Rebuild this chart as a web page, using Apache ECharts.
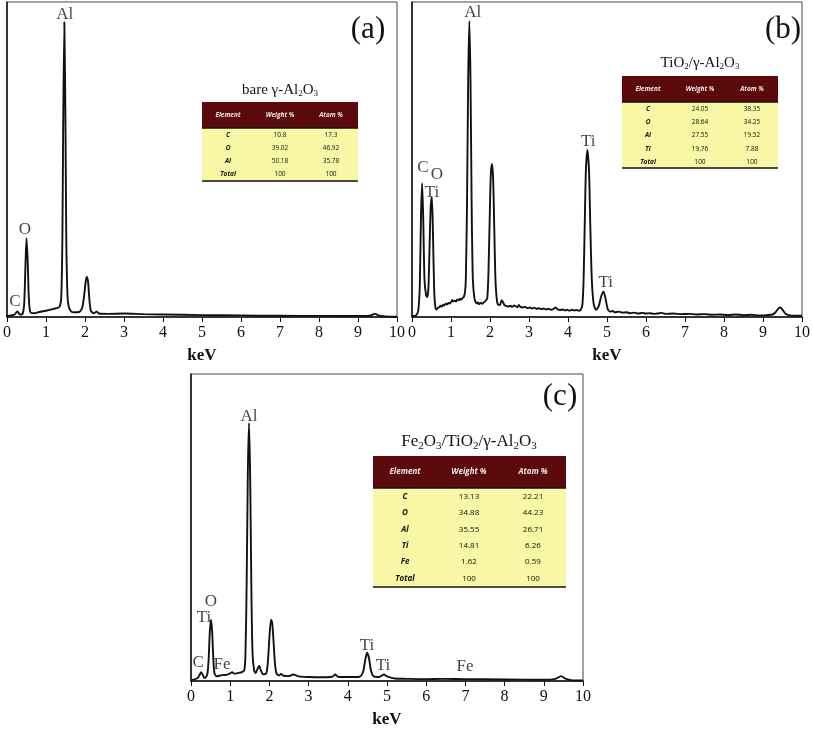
<!DOCTYPE html>
<html><head><meta charset="utf-8">
<script src="https://cdn.jsdelivr.net/npm/echarts@6/dist/echarts.min.js"></script>
<style>html,body{margin:0;padding:0;background:#fff}#c{width:813px;height:729px}</style>
</head><body><div id="c"></div>
<script>
// ---- Data: EDS spectra, [keV, relative intensity (% of panel height)] ----
const specA = [[0,0.3],[0.1,0.5],[0.2,0.8],[0.24,1.5],[0.27,1.8],[0.30,1.2],[0.35,0.8],[0.40,1.0],[0.44,4],[0.47,15],[0.50,25],[0.53,18],[0.56,6],[0.60,1.5],[0.7,1.2],[0.8,1.5],[1.0,2.0],[1.2,2.6],[1.34,3.2],[1.39,6],[1.42,25],[1.44,60],[1.47,93.6],[1.50,60],[1.52,25],[1.55,7],[1.58,3.5],[1.63,2.0],[1.70,1.5],[1.85,1.6],[1.93,3],[1.98,7],[2.02,11.5],[2.05,12.7],[2.08,11],[2.11,6],[2.15,2],[2.22,1.2],[2.30,1.7],[2.36,1.1],[2.6,1.0],[3.0,1.1],[3.5,0.9],[4.0,0.8],[5.0,0.6],[6.0,0.5],[7.0,0.4],[8.0,0.35],[9.0,0.3],[9.3,0.4],[9.4,0.9],[9.45,1.0],[9.52,0.5],[9.7,0.2],[10,0.1]];
const specB = [[0,0.3],[0.1,0.5],[0.16,2],[0.20,10],[0.23,32],[0.26,42.5],[0.29,30],[0.32,12],[0.36,7],[0.39,6.3],[0.42,9],[0.45,22],[0.48,35],[0.51,38],[0.54,25],[0.57,8],[0.60,3],[0.63,2.4],[0.66,2.9],[0.70,3.1],[0.73,3.6],[0.76,3.3],[0.80,3.9],[0.83,3.6],[0.86,4.2],[0.90,4.0],[0.93,4.5],[0.96,4.3],[1.00,4.7],[1.03,5.4],[1.06,4.9],[1.10,5.2],[1.13,4.9],[1.16,5.6],[1.20,5.3],[1.23,5.8],[1.26,5.5],[1.30,6.1],[1.33,6.4],[1.36,8],[1.38,12],[1.41,35],[1.44,75],[1.47,94],[1.50,75],[1.53,35],[1.56,12],[1.60,6],[1.63,4.8],[1.66,4.3],[1.69,4.6],[1.72,4.1],[1.76,4.5],[1.80,4.2],[1.84,4.7],[1.88,5.0],[1.93,6],[1.96,14],[1.99,30],[2.02,45],[2.05,48.6],[2.08,44],[2.11,28],[2.14,12],[2.18,5],[2.22,3.8],[2.26,3.9],[2.30,5.3],[2.33,4.8],[2.37,3.8],[2.42,3.5],[2.47,3.3],[2.52,3.6],[2.57,3.2],[2.62,3.7],[2.66,3.4],[2.70,3.1],[2.74,3.8],[2.78,3.2],[2.84,3.0],[2.90,3.2],[2.96,2.8],[3.02,3.0],[3.08,2.7],[3.14,2.9],[3.20,2.6],[3.26,2.8],[3.32,2.5],[3.38,2.7],[3.44,2.4],[3.50,2.6],[3.56,2.3],[3.62,2.5],[3.68,3.0],[3.74,2.4],[3.80,2.2],[3.86,2.4],[3.92,2.1],[3.98,2.3],[4.04,2.0],[4.10,2.3],[4.16,2.1],[4.22,2.2],[4.28,2.0],[4.33,2.4],[4.37,4],[4.40,12],[4.43,30],[4.46,47],[4.50,53],[4.54,46],[4.57,30],[4.61,12],[4.66,4],[4.72,2.3],[4.79,3.5],[4.85,6.5],[4.91,8],[4.96,6],[5.02,2.5],[5.08,1.7],[5.14,1.9],[5.2,1.5],[5.3,1.7],[5.4,1.4],[5.5,1.5],[5.6,1.2],[5.7,1.4],[5.8,1.1],[5.9,1.3],[6.0,1.1],[6.1,1.2],[6.2,1.0],[6.3,1.1],[6.4,1.3],[6.5,1.0],[6.7,1.1],[6.9,0.9],[7.1,1.0],[7.3,0.8],[7.5,0.9],[7.7,0.7],[7.9,0.8],[8.1,0.6],[8.3,0.8],[8.5,0.6],[8.7,0.7],[8.9,0.5],[9.1,0.6],[9.25,0.8],[9.32,1.5],[9.38,2.5],[9.44,3],[9.50,2.3],[9.58,1],[9.7,0.5],[10,0.4]];
const specC = [[0,0.3],[0.15,0.8],[0.22,2],[0.26,2.9],[0.30,2],[0.34,1],[0.38,1.2],[0.42,2.5],[0.45,7],[0.48,16],[0.51,20],[0.54,16],[0.57,7],[0.60,2.5],[0.66,1.5],[0.72,1.7],[0.8,1.9],[0.9,2.0],[1.0,2.5],[1.05,2.9],[1.1,2.4],[1.2,2.6],[1.3,2.9],[1.36,3.5],[1.39,9],[1.42,32],[1.45,68],[1.48,84],[1.51,66],[1.54,30],[1.57,9],[1.61,3.5],[1.65,2.6],[1.70,4],[1.74,5],[1.78,3.5],[1.84,2.2],[1.92,2.5],[1.96,6],[2.00,14],[2.04,20],[2.07,19],[2.10,14],[2.14,6],[2.18,2.5],[2.25,1.8],[2.30,2.3],[2.36,1.7],[2.5,1.6],[2.6,2.1],[2.65,2.0],[2.75,1.5],[3.0,1.3],[3.3,1.2],[3.6,1.4],[3.68,2.1],[3.75,1.4],[4.0,1.3],[4.3,1.4],[4.39,3],[4.44,6.5],[4.49,9.2],[4.54,7.5],[4.59,3.5],[4.66,1.5],[4.8,1.3],[4.92,2.1],[5.0,1.5],[5.2,0.8],[5.5,0.7],[6.0,0.6],[6.4,0.7],[7.0,0.6],[8.0,0.5],[9.0,0.4],[9.3,0.7],[9.44,1.6],[9.55,0.8],[9.7,0.3],[10,0.2]];

// ---- Peak annotations [keV, intensity, text] ----
const labelsA = [[1.48,95.9,'Al'],[0.46,27.9,'O'],[0.2,4.8,'C']];
const labelsB = [[1.56,96.5,'Al'],[0.28,47.3,'C'],[0.64,45.1,'O'],[0.51,39.4,'Ti'],[4.52,55.6,'Ti'],[4.97,11.1,'Ti']];
const labelsC = [[1.48,86.3,'Al'],[0.51,26,'O'],[0.33,20.6,'Ti'],[0.18,6,'C'],[0.79,5.4,'Fe'],[4.49,11.7,'Ti'],[4.9,5.1,'Ti'],[6.99,4.8,'Fe']];

// ---- Axis ticks ----
const xMin = 0, xMax = 10, xStep = 1;

// ---- Composition tables ----
const tableHeader = ['Element','Weight %','Atom %'];
const elemA = ['C','O','Al','Total'];
const weightA = ['10.8','39.02','50.18','100'];
const atomA = ['17.3','46.92','35.78','100'];
const elemB = ['C','O','Al','Ti','Total'];
const weightB = ['24.05','28.64','27.55','19.76','100'];
const atomB = ['38.35','34.25','19.52','7.88','100'];
const elemC = ['C','O','Al','Ti','Fe','Total'];
const weightC = ['13.13','34.88','35.55','14.81','1.62','100'];
const atomC = ['22.21','44.23','26.71','6.26','0.59','100'];
const titleA = 'bare γ-Al{s|2}O{s|3}';
const titleB = 'TiO{s|2}/γ-Al{s|2}O{s|3}';
const titleC = 'Fe{s|2}O{s|3}/TiO{s|2}/γ-Al{s|2}O{s|3}';
const panelTags = ['(a)','(b)','(c)'];

const SERIF = '"Liberation Serif","DejaVu Serif",serif';
const SANS = '"Open Sans","Liberation Sans",sans-serif';

function makeTable(t, title, elems, weights, atoms){
  const els = [];
  const fs = t.fs;
  els.push({type:'text', x:t.cols[1], y:t.titleY, style:{text:title, font:`${t.tfs}px ${SERIF}`, fill:'#111', align:'center', verticalAlign:'middle',
    rich:{s:{fontSize:Math.round(t.tfs*0.62), fontFamily:SERIF, verticalAlign:'bottom', padding:[Math.round(t.tfs*0.45),0,0,0], fill:'#111'}}}});
  els.push({type:'rect', shape:{x:t.x, y:t.y, width:t.w, height:t.hh}, style:{fill:'#5b0a0c'}});
  const bodyTop = t.y + t.hh;
  els.push({type:'rect', shape:{x:t.x, y:bodyTop, width:t.w, height:t.bottom-bodyTop}, style:{fill:'#f7f7a6'}});
  els.push({type:'line', shape:{x1:t.x, y1:bodyTop, x2:t.x+t.w, y2:bodyTop}, style:{stroke:'#111', lineWidth:1.5}});
  els.push({type:'line', shape:{x1:t.x, y1:t.bottom, x2:t.x+t.w, y2:t.bottom}, style:{stroke:'#111', lineWidth:1.5}});
  tableHeader.forEach((h,i)=>{
    els.push({type:'text', x:t.cols[i], y:t.y+t.hh/2, style:{text:h, font:`italic bold ${fs}px ${SANS}`, fill:'#f3e6e6', align:'center', verticalAlign:'middle'}});
  });
  elems.forEach((e,r)=>{
    const yy = t.rows[r];
    els.push({type:'text', x:t.cols[0], y:yy, style:{text:e, font:`italic bold ${fs}px ${SANS}`, fill:'#111', align:'center', verticalAlign:'middle'}});
    els.push({type:'text', x:t.cols[1], y:yy, style:{text:weights[r], font:`${fs}px ${SANS}`, fill:'#111', align:'center', verticalAlign:'middle'}});
    els.push({type:'text', x:t.cols[2], y:yy, style:{text:atoms[r], font:`${fs}px ${SANS}`, fill:'#111', align:'center', verticalAlign:'middle'}});
  });
  return {type:'group', children:els};
}

const chart = echarts.init(document.getElementById('c'));
const grids = [
  {left:5, top:2, width:392, height:315},
  {left:412, top:2, width:392, height:315},
  {left:191, top:374, width:392, height:315}
].map(g=>Object.assign(g,{show:true, borderColor:'#444', borderWidth:1, backgroundColor:'transparent'}));

const xAxes = [0,1,2].map(i=>({
  type:'value', gridIndex:i, min:xMin, max:xMax, interval:xStep,
  name:'keV', nameLocation:'middle', nameGap:30,
  nameTextStyle:{fontFamily:SERIF, fontWeight:'bold', fontSize:17, color:'#111'},
  axisLine:{show:true, lineStyle:{color:'#111', width:1.5}},
  axisTick:{show:true, length:5, lineStyle:{color:'#111', width:1}},
  axisLabel:{fontFamily:SERIF, fontSize:16, color:'#111', margin:8, showMinLabel:true, showMaxLabel:true},
  splitLine:{show:false}
}));
const yAxes = [0,1,2].map(i=>({
  type:'value', gridIndex:i, min:0, max:100,
  axisLine:{show:true, lineStyle:{color:'#111', width:1.5}},
  axisTick:{show:false}, axisLabel:{show:false}, splitLine:{show:false}
}));

const specs = [specA, specB, specC];
const labs = [labelsA, labelsB, labelsC];
const series = [];
specs.forEach((s,i)=>{
  series.push({type:'line', xAxisIndex:i, yAxisIndex:i, data:s, showSymbol:false, smooth:0.25,
    lineStyle:{color:'#111', width:1.9}, animation:false, z:3});
  series.push({type:'scatter', xAxisIndex:i, yAxisIndex:i, symbolSize:0, animation:false, z:4,
    data:labs[i].map(d=>({value:[d[0],d[1]], name:d[2]})),
    label:{show:true, position:'inside', formatter:p=>p.name, fontFamily:SERIF, fontSize:17, color:'#111'}});
});

const tables = [
  makeTable({x:202, y:102, w:156, hh:26, bottom:181, cols:[228,280,331], rows:[135,148,161,174], titleY:90, fs:6.5, tfs:15}, titleA, elemA, weightA, atomA),
  makeTable({x:622, y:76, w:156, hh:26, bottom:168, cols:[648,700,752], rows:[109,122,135,149,162], titleY:63, fs:6.5, tfs:15}, titleB, elemB, weightB, atomB),
  makeTable({x:373, y:456, w:193, hh:32, bottom:587, cols:[405,469,533], rows:[497,513,530,546,562,579], titleY:442, fs:8, tfs:17}, titleC, elemC, weightC, atomC)
];
const tagPos = [[368,30],[783,30],[560,397]];
const tags = panelTags.map((t,i)=>({type:'text', x:tagPos[i][0], y:tagPos[i][1], style:{text:t, font:`31px ${SERIF}`, fill:'#111', align:'center', verticalAlign:'middle'}}));

chart.setOption({
  backgroundColor:'#fff', animation:false,
  grid:grids, xAxis:xAxes, yAxis:yAxes, series:series,
  graphic:tables.concat(tags)
});
</script></body></html>
